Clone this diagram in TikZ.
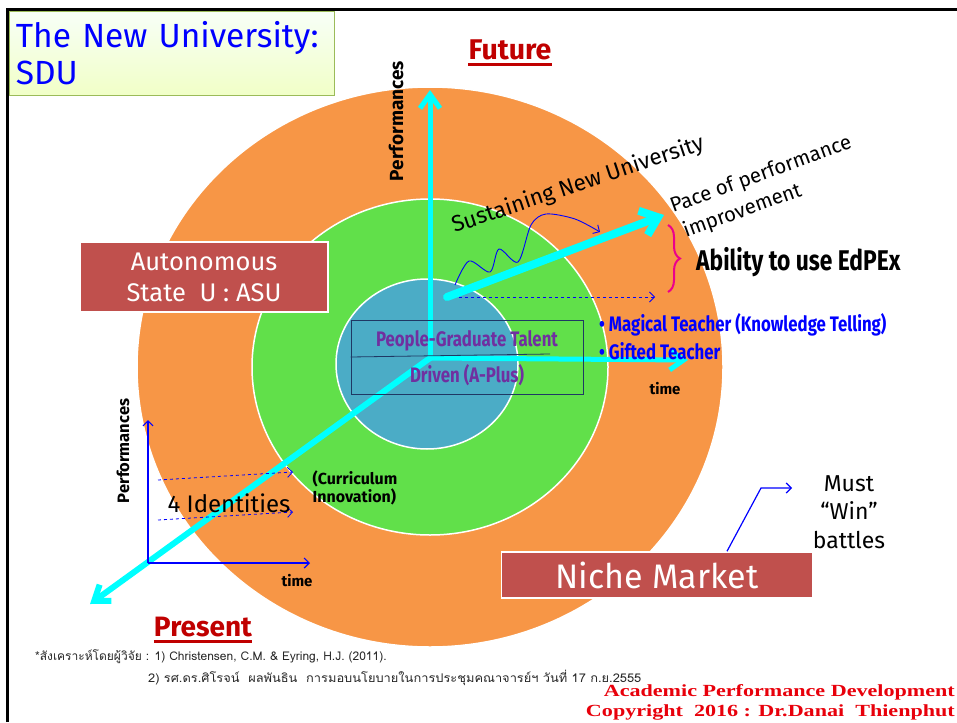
\documentclass[tikz,border=0pt]{standalone}
\usepackage{fontspec}
\setmainfont{Fira Sans}
\newfontfamily\heavyfont[FakeStretch=0.8]{Fira Sans}
\newfontfamily\thaifont[Script=Thai]{Loma}
\newfontfamily\thaiwide[Script=Thai,FakeStretch=1.07]{Loma}
\newfontfamily\copyfont[FakeStretch=1.3]{Liberation Serif}
\usetikzlibrary{arrows.meta,decorations.pathreplacing}
\definecolor{ringorange}{HTML}{F79646}
\definecolor{ringgreen}{HTML}{61E04A}
\definecolor{ringblue}{HTML}{4BACC6}
\definecolor{boxred}{HTML}{C0504D}
\definecolor{titleline}{HTML}{9BBB59}
\definecolor{futurered}{HTML}{C00000}
\definecolor{talentpurple}{HTML}{7030A0}
\definecolor{framenavy}{HTML}{1F3864}
\definecolor{copyred}{HTML}{E8000B}
\definecolor{axiscyan}{HTML}{00FFFF}
\tikzstyle{ring}=[draw=white,line width=1.5pt]
\tikzstyle{redbox}=[rectangle,fill=boxred,draw=white,line width=1.5pt,text=white,align=center,inner sep=0pt]
\tikzstyle{bigarrow}=[axiscyan,line width=5pt,line cap=round,-{Straight Barb[length=14pt,width=20pt]}]
\tikzstyle{thinarrow}=[blue,line width=1.2pt,-{Straight Barb[length=5pt,width=10pt]}]
\tikzstyle{dasharrow}=[blue,dashed,line width=0.8pt,-{Straight Barb[length=5pt,width=10pt]}]
\tikzstyle{label}=[inner sep=0pt,font=\bfseries\fontsize{15}{17}\selectfont]

\begin{document}
\begin{tikzpicture}[x=1pt,y=-1pt]
		\useasboundingbox[fill=white] (0,0) rectangle (957,722);
		\draw[black,line width=3pt] (7.5,722) -- (7.5,9.5) -- (957,9.5);
		\node[anchor=north west,draw=titleline,line width=0.8pt,top color=green!3!white,bottom color=lime!22!white,minimum width=325pt,minimum height=84pt,text width=312pt,align=left,text=blue,font=\fontsize{33.5}{37}\selectfont] (title) at (9,11) {The New University:\\SDU};

		\draw[ring,fill=ringorange] (430,367) ellipse [x radius=293pt,y radius=280pt];
		\draw[ring,fill=ringgreen] (430,367) ellipse [x radius=178pt,y radius=168pt];
		\draw[ring,fill=ringblue] (427,364) ellipse [x radius=91pt,y radius=85pt];

		\coordinate (origin) at (430,358);
		\coordinate (future) at (430,90);
		\coordinate (present) at (90,604);
		\coordinate (timeend) at (688,360);
		\coordinate (pacestart) at (447,297);
		\coordinate (paceend) at (664,215);
		\coordinate (dashend) at (655,297);

		\draw[bigarrow] (origin) -- (future);
		\draw[bigarrow] (origin) -- (timeend);
		\draw[bigarrow,line width=6pt] (origin) -- (present);
		\draw[dasharrow] (pacestart) -- (dashend);
		\draw[bigarrow,line width=8pt,-{Straight Barb[length=16pt,width=26pt]}] (pacestart) -- (paceend);
		\draw[thinarrow,line width=0.9pt] plot[smooth] coordinates {(455,285) (469,261) (490,272) (499,249) (518,262) (531,225) (546,214) (575,219) (600,232)};
		\draw[magenta,line width=2pt,decorate,decoration={brace,amplitude=12pt}] (668,225) -- (668,292);

		\node[draw=framenavy,line width=0.8pt,minimum width=232pt,minimum height=74pt] (talentbox) at (467,357) {};
		\draw[framenavy,line width=0.8pt] (talentbox.west) -- (550,354);
		\node[text=talentpurple,font=\heavyfont\bfseries\fontsize{21}{24}\selectfont,inner sep=0pt] (talent1) at (467,341) {People-Graduate Talent};
		\node[text=talentpurple,font=\heavyfont\bfseries\fontsize{21}{24}\selectfont,inner sep=0pt] (talent2) at (467,375) {Driven (A-Plus)};

		\node[label,font=\bfseries\fontsize{19}{21}\selectfont,rotate=90] (perftop) at (396,121) {Performances};
		\node[text=futurered,inner sep=0pt,font=\bfseries\fontsize{28.5}{30}\selectfont] (futurelbl) at (510,50) {Future};
		\draw[futurered,line width=3pt] ([yshift=-4pt]futurelbl.south west) -- ([yshift=-4pt]futurelbl.south east);
		\node[anchor=base,rotate=18.5,inner sep=0pt,font=\fontsize{22.5}{24}\selectfont] (sustain) at (580,191) {Sustaining New University};
		\node[anchor=base west,rotate=20,inner sep=0pt,font=\fontsize{20.5}{22}\selectfont] (pace1) at (673,213) {Pace of performance};
		\node[anchor=base west,rotate=20,inner sep=0pt,font=\fontsize{20.5}{22}\selectfont] (pace2) at (686,238) {improvement};
		\node[anchor=west,inner sep=0pt,font=\heavyfont\bfseries\fontsize{28.5}{30}\selectfont] (edpex) at (696,262) {Ability to use EdPEx};
		\node[anchor=west,inner sep=0pt,text=blue,font=\heavyfont\bfseries\fontsize{21}{23}\selectfont] (magical) at (599,325) {\textbullet\ Magical Teacher (Knowledge Telling)};
		\node[anchor=west,inner sep=0pt,text=blue,font=\heavyfont\bfseries\fontsize{21}{23}\selectfont] (gifted) at (599,351) {\textbullet\ Gifted Teacher};
		\node[label] (timetop) at (665,389) {time};

		\node[redbox,minimum width=248pt,minimum height=70pt,font=\fontsize{25.5}{31}\selectfont] (asu) at (204,277) {Autonomous\\State\ \ U : ASU};
		\node[redbox,minimum width=311pt,minimum height=46pt,font=\fontsize{34}{36}\selectfont] (niche) at (657,575) {Niche Market};
		\node[align=center,inner sep=0pt,font=\fontsize{23}{28.5}\selectfont] (must) at (849,512) {Must\\“Win”\\battles};
		\coordinate (bend) at (761,488);
		\coordinate (musttip) at (792,488);
		\draw[thinarrow] ([xshift=70pt]niche.north) -- (bend) -- (musttip);

		\coordinate (lorigin) at (148,563);
		\coordinate (ltop) at (148,420);
		\coordinate (lright) at (310,563);
		\draw[thinarrow] (lorigin) -- (ltop);
		\draw[thinarrow] (lorigin) -- (lright);
		\draw[dasharrow] (158,480) -- (293,472);
		\draw[dasharrow] (158,520) -- (293,512);
		\node[label,rotate=90,font=\bfseries\fontsize{16.5}{18}\selectfont] (perfleft) at (123,451) {Performances};
		\node[label] (timeleft) at (297,581) {time};
		\node[inner sep=0pt,font=\fontsize{24}{26}\selectfont] (identities) at (229,503) {4 Identities};
		\node[label,align=left,font=\bfseries\fontsize{16}{18}\selectfont] (curriculum) at (355,488) {(Curriculum\\Innovation)};

		\node[text=futurered,inner sep=0pt,font=\bfseries\fontsize{28}{30}\selectfont] (presentlbl) at (203,627) {Present};
		\draw[futurered,line width=3pt] ([yshift=-4pt]presentlbl.south west) -- ([yshift=-4pt]presentlbl.south east);

		\node[anchor=base west,inner sep=0pt,text=black!85,font=\thaifont\fontsize{12}{14}\selectfont] (ref1) at (35,660) {*สังเคราะห์โดยผู้วิจัย : 1) Christensen, C.M. \& Eyring, H.J. (2011).};
		\node[anchor=base west,inner sep=0pt,text=black!85,font=\thaiwide\fontsize{12}{14}\selectfont] (ref2) at (148,682) {2) รศ.ดร.ศิโรจน์\ \ ผลพันธิน\ \ การมอบนโยบายในการประชุมคณาจารย์ฯ วันที่ 17 ก.ย.2555};
		\node[anchor=base east,inner sep=0pt,text=copyred,font=\copyfont\bfseries\fontsize{17}{20}\selectfont] (copy1) at (955,696) {Academic Performance Development};
		\node[anchor=base east,inner sep=0pt,text=copyred,font=\copyfont\bfseries\fontsize{17}{20}\selectfont] (copy2) at (955,716) {Copyright\ \ 2016 : Dr.Danai\ \ Thienphut};
	\end{tikzpicture}
\end{document}
